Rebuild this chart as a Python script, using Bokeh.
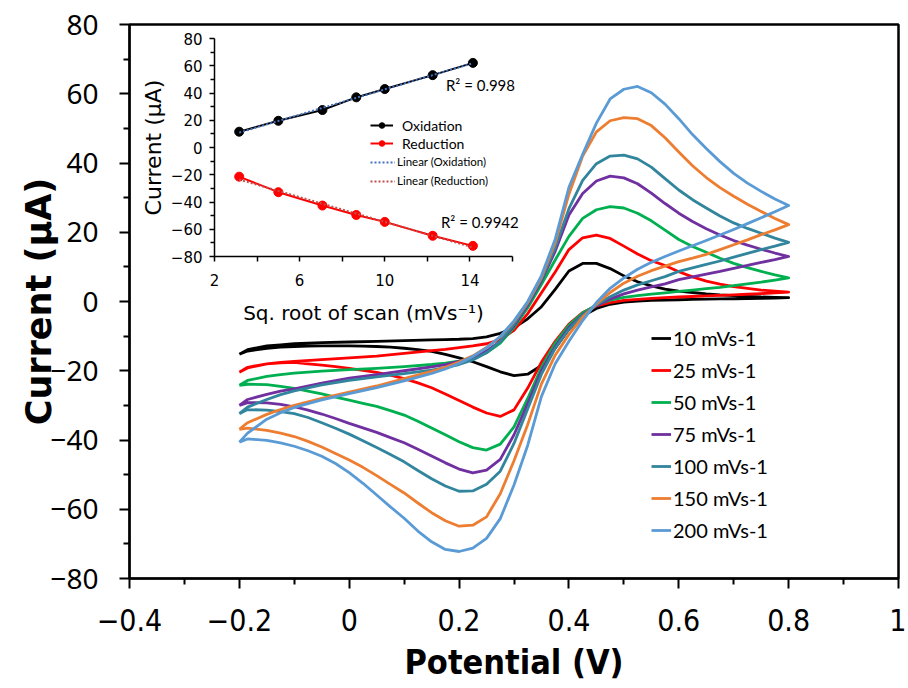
import numpy as np
from bokeh.plotting import figure
from bokeh.models import FixedTicker, CustomJSTickFormatter, Legend, LegendItem, Label
from bokeh.layouts import column
from bokeh.embed import file_html
from bokeh.resources import INLINE

# ---------------- main CV data ----------------
# forward (anodic) sweep potentials
potential_fwd = [-0.2, -0.185, -0.15, -0.125, -0.1, -0.05, 0.0, 0.05, 0.1, 0.15, 0.175, 0.2, 0.225, 0.25,
                 0.275, 0.3, 0.325, 0.35, 0.375, 0.4, 0.425, 0.45, 0.475, 0.5, 0.525, 0.55, 0.575, 0.6,
                 0.625, 0.65, 0.675, 0.7, 0.725, 0.75, 0.775, 0.8]
# reverse (cathodic) sweep potentials, listed in ascending order
potential_rev = [-0.2, -0.185, -0.15, -0.125, -0.1, -0.075, -0.05, -0.025, 0.0, 0.025, 0.05, 0.075, 0.1,
                 0.125, 0.15, 0.175, 0.2, 0.225, 0.25, 0.275, 0.3, 0.325, 0.35, 0.375, 0.4, 0.425, 0.45,
                 0.475, 0.5, 0.525, 0.55, 0.575, 0.6, 0.625, 0.65, 0.675, 0.7, 0.725, 0.75, 0.775, 0.8]

fwd_10 = [-15.2, -13.9, -12.8, -12.5, -12.2, -11.9, -11.7, -11.5, -11.3, -11.1, -11.0, -10.9, -10.7, -10.2,
          -9.2, -7.6, -5.0, -1.5, 3.5, 8.8, 11.0, 11.0, 9.5, 7.4, 5.7, 4.5, 3.6, 3.0,
          2.6, 2.2, 1.9, 1.7, 1.5, 1.3, 1.2, 1.1]
rev_10 = [-15.2, -14.3, -13.5, -13.2, -13.0, -12.9, -12.8, -12.8, -12.8, -12.9, -13.0, -13.2, -13.5,
          -13.9, -14.4, -15.3, -16.3, -17.4, -18.8, -20.3, -21.4, -21.0, -18.5, -13.5, -8.0, -4.2, -2.0,
          -0.8, -0.2, 0.1, 0.3, 0.4, 0.5, 0.6, 0.7, 0.75, 0.8, 0.85, 0.9, 1.0, 1.1]
fwd_25 = [-20.4, -19.0, -18.0, -17.6, -17.3, -16.8, -16.3, -15.8, -15.0, -14.2, -13.8, -13.3, -12.8, -12.2,
          -11.0, -8.3, -3.5, 2.5, 8.5, 15.0, 18.4, 19.2, 18.2, 16.0, 13.7, 11.8, 10.4, 8.6,
          7.1, 5.9, 5.0, 4.3, 3.8, 3.3, 3.0, 2.7]
rev_25 = [-20.4, -19.2, -18.0, -17.7, -17.6, -18.0, -18.4, -18.8, -19.3, -19.9, -20.5, -21.3, -22.3,
          -23.5, -24.9, -26.7, -28.6, -30.5, -32.2, -33.2, -31.3, -25.0, -17.5, -11.5, -6.5, -3.2, -1.3,
          -0.3, 0.3, 0.6, 0.9, 1.1, 1.3, 1.45, 1.6, 1.75, 1.9, 2.1, 2.3, 2.5, 2.7]
fwd_50 = [-24.2, -22.8, -21.6, -21.1, -20.7, -20.1, -19.7, -19.3, -18.8, -18.2, -17.8, -17.2, -16.3, -14.8,
          -12.0, -7.5, -1.8, 5.0, 12.0, 18.8, 24.0, 26.5, 27.4, 27.0, 25.5, 23.3, 20.6, 17.9,
          15.9, 14.2, 12.5, 11.0, 9.8, 8.7, 7.7, 6.8]
rev_50 = [-24.2, -23.9, -24.0, -24.5, -25.1, -25.9, -26.7, -27.6, -28.5, -29.4, -30.3, -31.5, -32.8,
          -34.6, -36.5, -38.5, -40.5, -42.2, -42.9, -41.2, -36.2, -28.0, -19.0, -12.0, -6.8, -3.3, -1.0,
          0.4, 1.2, 1.7, 2.1, 2.5, 2.9, 3.3, 3.7, 4.1, 4.6, 5.1, 5.6, 6.2, 6.8]
fwd_75 = [-30.0, -28.3, -26.8, -25.9, -25.2, -23.6, -22.1, -21.1, -20.0, -18.9, -18.2, -17.3, -16.1, -14.3,
          -11.5, -7.0, -1.0, 6.0, 14.5, 25.0, 31.2, 34.8, 36.2, 35.7, 34.0, 31.3, 28.3, 25.5,
          23.1, 21.0, 19.2, 17.6, 16.3, 15.1, 14.0, 13.0]
rev_75 = [-30.0, -29.2, -29.3, -29.7, -30.4, -31.4, -32.5, -33.8, -35.2, -36.5, -37.8, -39.3, -40.8,
          -42.7, -44.6, -46.6, -48.4, -49.5, -48.7, -45.6, -38.5, -29.5, -20.0, -13.0, -7.5, -3.8, -1.2,
          0.7, 2.2, 3.3, 4.2, 5.1, 6.3, 7.1, 7.9, 8.7, 9.6, 10.4, 11.3, 12.1, 13.0]
fwd_100 = [-32.4, -30.5, -28.3, -26.9, -25.8, -24.1, -22.8, -21.8, -20.8, -19.8, -19.1, -18.2, -16.9, -14.8,
           -11.5, -6.5, -0.5, 6.5, 15.5, 26.8, 35.0, 39.8, 42.0, 42.3, 41.2, 38.8, 35.5, 32.2,
           29.4, 27.0, 24.7, 22.7, 21.1, 19.7, 18.3, 17.1]
rev_100 = [-32.4, -31.2, -31.4, -31.8, -32.4, -33.5, -35.0, -36.6, -38.3, -40.2, -42.2, -44.2, -46.3,
           -48.8, -51.2, -53.3, -54.8, -54.7, -52.8, -49.0, -41.0, -31.0, -21.0, -13.5, -8.0, -4.0, -1.0,
           1.4, 3.3, 4.8, 6.0, 7.2, 8.7, 9.7, 10.7, 11.7, 12.8, 13.9, 15.0, 16.0, 17.1]
fwd_150 = [-36.9, -35.0, -32.6, -31.2, -30.0, -28.0, -26.2, -24.4, -22.3, -20.2, -19.0, -17.5, -15.7, -13.3,
           -10.2, -5.8, -0.3, 7.0, 17.0, 31.0, 42.0, 49.0, 52.2, 53.1, 52.8, 50.8, 47.3, 43.2,
           39.2, 35.8, 32.9, 30.4, 28.1, 26.0, 24.0, 22.2]
rev_150 = [-36.9, -36.6, -37.2, -38.0, -39.0, -40.4, -42.0, -43.9, -45.8, -47.9, -50.3, -52.8, -55.3,
           -58.2, -61.0, -63.3, -64.9, -64.6, -62.2, -55.5, -46.0, -35.5, -23.8, -15.5, -9.5, -4.5, -0.8,
           2.6, 5.3, 7.3, 8.9, 10.2, 11.5, 12.5, 13.6, 15.0, 16.4, 17.8, 19.3, 20.7, 22.2]
fwd_200 = [-40.6, -38.0, -34.0, -32.1, -30.6, -28.4, -26.6, -24.9, -22.9, -20.8, -19.5, -17.9, -15.9, -13.4,
           -10.1, -5.6, 0.0, 7.5, 18.0, 33.0, 42.5, 51.5, 58.5, 61.3, 62.1, 60.3, 57.0, 52.8,
           48.2, 44.2, 40.4, 37.0, 34.2, 31.8, 29.6, 27.7]
rev_200 = [-40.6, -39.7, -40.1, -40.8, -41.8, -43.1, -44.7, -46.8, -49.4, -52.5, -55.9, -59.3, -62.6,
           -66.3, -69.4, -71.6, -72.2, -71.2, -68.4, -62.7, -53.0, -41.5, -27.4, -18.0, -11.5, -5.5, -0.3,
           3.8, 6.8, 9.3, 11.3, 13.0, 14.6, 16.1, 17.6, 19.2, 20.8, 22.5, 24.2, 25.9, 27.7]

series_labels = ["10 mVs-1", "25 mVs-1", "50 mVs-1", "75 mVs-1", "100 mVs-1", "150 mVs-1", "200 mVs-1"]
series_colors = ["#000000", "#FF0000", "#00B050", "#7030A0", "#31859C", "#ED7D31", "#5B9BD5"]
forward = [fwd_10, fwd_25, fwd_50, fwd_75, fwd_100, fwd_150, fwd_200]
reverse = [rev_10, rev_25, rev_50, rev_75, rev_100, rev_150, rev_200]

x_ticks = [-0.4, -0.2, 0.0, 0.2, 0.4, 0.6, 0.8, 1.0]
x_tick_labels = ["\u22120.4", "\u22120.2", "0", "0.2", "0.4", "0.6", "0.8", "1"]
x_minor_ticks = [-0.3, -0.1, 0.1, 0.3, 0.5, 0.7, 0.9]
y_ticks = [-80, -60, -40, -20, 0, 20, 40, 60, 80]
y_tick_labels = ["\u221280", "\u221260", "\u221240", "\u221220", "0", "20", "40", "60", "80"]
y_minor_ticks = [-70, -50, -30, -10, 10, 30, 50, 70]

# ---------------- inset data ----------------
sqrt_scan_rate = [3.16, 5.0, 7.07, 8.66, 10.0, 12.25, 14.14]
oxidation_current = [11.6, 19.6, 27.5, 36.8, 42.9, 53.1, 62.1]
reduction_current = [-21.4, -32.8, -42.6, -49.5, -54.6, -64.8, -72.2]
r2_texts = ["R\u00b2 = 0.998", "R\u00b2 = 0.9942"]

inset_x_ticks = [2, 4, 6, 8, 10, 12, 14, 16]
inset_x_tick_labels = ["2", "", "6", "", "10", "", "14", ""]
inset_y_ticks = [-80, -60, -40, -20, 0, 20, 40, 60, 80]
inset_y_tick_labels = ["\u221280", "\u221260", "\u221240", "\u221220", "0", "20", "40", "60", "80"]
inset_y_minor_ticks = [-70, -50, -30, -10, 10, 30, 50, 70]

FMT = """
for (let i = 0; i < tvals.length; i++) {
    if (Math.abs(tvals[i] - tick) < 1e-6) { return tlabels[i]; }
}
return "";
"""

def fmt(tv, tl):
    return CustomJSTickFormatter(args=dict(tvals=tv, tlabels=tl), code=FMT)

LEFT = 129   # shared left border (main and inset frames are aligned by the column)
RIGHT = 8

# ---------------- main figure ----------------
p = figure(frame_width=769, frame_height=554, x_range=(-0.4, 1.0), y_range=(-80, 80),
           output_backend="svg", toolbar_location=None,
           min_border_left=LEFT, min_border_right=RIGHT, min_border_top=24, min_border_bottom=90)
p.background_fill_color = "white"
p.border_fill_color = "white"
p.grid.visible = False
p.outline_line_color = "black"
p.outline_line_width = 2.5

items = []
for lab, col, f, r in zip(series_labels, series_colors, forward, reverse):
    xs = potential_fwd + potential_rev[::-1]
    ys = f + r[::-1]
    rr = p.line(xs, ys, line_color=col, line_width=2.8, line_join="round")
    items.append(LegendItem(label=lab, renderers=[rr]))

p.xaxis.ticker = FixedTicker(ticks=x_ticks, minor_ticks=x_minor_ticks)
p.xaxis.formatter = fmt(x_ticks, x_tick_labels)
p.yaxis.ticker = FixedTicker(ticks=y_ticks, minor_ticks=y_minor_ticks)
p.yaxis.formatter = fmt(y_ticks, y_tick_labels)

for ax in (p.xaxis[0], p.yaxis[0]):
    ax.axis_line_width = 2
    ax.axis_line_color = "black"
    ax.major_tick_line_width = 2
    ax.minor_tick_line_width = 2
    ax.major_tick_line_color = "black"
    ax.minor_tick_line_color = "black"
    ax.major_tick_out = 10
    ax.major_tick_in = 0
    ax.minor_tick_out = 6
    ax.minor_tick_in = 0
    ax.major_label_text_color = "black"
    ax.axis_label_text_color = "black"
    ax.axis_label_text_font_style = "bold"

p.xaxis.major_label_text_font = "DejaVu Sans Condensed"
p.xaxis.major_label_text_font_size = "30px"
p.xaxis.major_label_standoff = 20
p.xaxis.axis_label = "Potential (V)"
p.xaxis.axis_label_text_font = "DejaVu Sans Condensed"
p.xaxis.axis_label_text_font_size = "34px"
p.xaxis.axis_label_standoff = 8

p.yaxis.major_label_text_font = "Noto Sans"
p.yaxis.major_label_text_font_size = "28px"
p.yaxis.major_label_standoff = 21
p.yaxis.axis_label = "Current (\u00b5A)"
p.yaxis.axis_label_text_font = "DejaVu Sans"
p.yaxis.axis_label_text_font_size = "35px"
p.yaxis.axis_label_standoff = -12

legend = Legend(items=items, location=(522, 36), orientation="vertical")
legend.label_text_font = "Lato"
legend.label_text_font_size = "20px"
legend.label_text_color = "black"
legend.glyph_width = 20
legend.glyph_height = 20
legend.label_height = 24
legend.spacing = 8
legend.label_standoff = 2
legend.padding = 0
legend.margin = 0
legend.border_line_alpha = 0
legend.background_fill_alpha = 0
p.add_layout(legend)

# R^2 annotations of the inset (drawn on the main canvas so they are not clipped)
p.add_layout(Label(x=0.176, y=62.6, text=r2_texts[0], text_font="Lato", text_font_size="15px",
                   text_color="black", text_baseline="middle", text_align="left"))
p.add_layout(Label(x=0.167, y=22.9, text=r2_texts[1], text_font="Lato", text_font_size="15px",
                   text_color="black", text_baseline="middle", text_align="left"))

# ---------------- inset figure ----------------
q = figure(frame_width=298, frame_height=218, x_range=(2, 16), y_range=(-80, 80),
           output_backend="svg", toolbar_location=None,
           min_border_left=LEFT, min_border_right=RIGHT, min_border_top=11, min_border_bottom=70)
q.background_fill_alpha = 0
q.border_fill_alpha = 0
q.border_fill_color = None
q.background_fill_color = None
q.outline_line_color = None
q.grid.visible = False

ox_line = q.line(sqrt_scan_rate, oxidation_current, line_color="black", line_width=2)
ox_pts = q.scatter(sqrt_scan_rate, oxidation_current, size=9, fill_color="black", line_color="black")
red_line = q.line(sqrt_scan_rate, reduction_current, line_color="#FF0000", line_width=2)
red_pts = q.scatter(sqrt_scan_rate, reduction_current, size=9, fill_color="#FF0000", line_color="#FF0000")

ox_fit = np.polyval(np.polyfit(sqrt_scan_rate, oxidation_current, 1), sqrt_scan_rate)
red_fit = np.polyval(np.polyfit(sqrt_scan_rate, reduction_current, 1), sqrt_scan_rate)
ox_fit_r = q.line(sqrt_scan_rate, ox_fit, line_color="#4472C4", line_width=2, line_dash="2 2")
red_fit_r = q.line(sqrt_scan_rate, red_fit, line_color="#C0504D", line_width=2, line_dash="2 2")

q.xaxis.ticker = FixedTicker(ticks=inset_x_ticks, minor_ticks=[])
q.xaxis.formatter = fmt(inset_x_ticks, inset_x_tick_labels)
q.yaxis.ticker = FixedTicker(ticks=inset_y_ticks, minor_ticks=inset_y_minor_ticks)
q.yaxis.formatter = fmt(inset_y_ticks, inset_y_tick_labels)
for ax in (q.xaxis[0], q.yaxis[0]):
    ax.axis_line_width = 1.5
    ax.axis_line_color = "black"
    ax.major_tick_line_width = 1.5
    ax.minor_tick_line_width = 1.5
    ax.major_tick_line_color = "black"
    ax.minor_tick_line_color = "black"
    ax.major_tick_out = 5
    ax.major_tick_in = 0
    ax.minor_tick_out = 4
    ax.minor_tick_in = 0
    ax.major_label_text_color = "black"
    ax.major_label_text_font = "DejaVu Sans"
    ax.major_label_text_font_size = "15px"
    ax.axis_label_text_color = "black"
    ax.axis_label_text_font = "DejaVu Sans"
    ax.axis_label_text_font_style = "normal"
q.xaxis.major_label_standoff = 12
q.yaxis.major_label_standoff = 7
q.xaxis.axis_label = "Sq. root of scan (mVs\u207b\u00b9)"
q.xaxis.axis_label_text_font_size = "20px"
q.xaxis.axis_label_standoff = 12
q.yaxis.axis_label = "Current (\u00b5A)"
q.yaxis.axis_label_text_font_size = "22px"
q.yaxis.axis_label_standoff = 2

leg1 = Legend(items=[LegendItem(label="Oxidation", renderers=[ox_line, ox_pts]),
                     LegendItem(label="Reduction", renderers=[red_line, red_pts])],
              location=(156, 104))
leg2 = Legend(items=[LegendItem(label="Linear (Oxidation)", renderers=[ox_fit_r]),
                     LegendItem(label="Linear (Reduction)", renderers=[red_fit_r])],
              location=(156, 66))
for lg, fs, gw, so, lh in ((leg1, "14px", 23, 9, 18), (leg2, "11.5px", 25, 2, 19)):
    lg.label_text_font = "Lato"
    lg.label_text_font_size = fs
    lg.label_text_color = "black"
    lg.glyph_width = gw
    lg.glyph_height = 14
    lg.label_height = lh
    lg.spacing = 0
    lg.label_standoff = so
    lg.padding = 0
    lg.margin = 0
    lg.border_line_alpha = 0
    lg.background_fill_alpha = 0
    q.add_layout(lg)

q.styles = {"position": "absolute", "left": "85px", "top": "27px"}
layout = column(p, q)
layout.styles = {"position": "relative"}

open("out.html", "w").write(file_html(layout, INLINE))
